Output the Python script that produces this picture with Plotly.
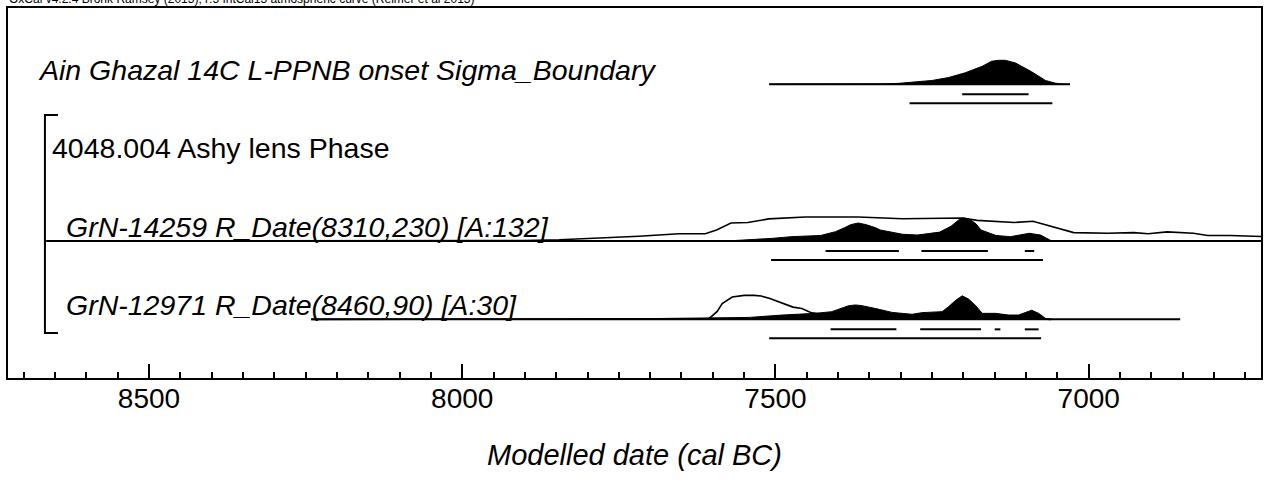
import plotly.graph_objects as go

# ---------------- data (years cal BC, relative probability) ----------------
x_range = [8725, 6725]
tick_years = [8500, 8000, 7500, 7000]

labels = [
    "Ain Ghazal 14C L-PPNB onset Sigma_Boundary",
    "4048.004 Ashy lens Phase",
    "GrN-14259 R_Date(8310,230) [A:132]",
    "GrN-12971 R_Date(8460,90) [A:30]",
]
label_italic = [True, False, True, True]

# Boundary (posterior only)
b_extent = [7510, 7030]
b_post_years = [7510, 7400, 7360, 7330, 7303, 7277, 7250, 7224, 7197, 7170, 7155, 7144, 7133, 7117, 7091, 7069, 7054, 7040, 7030]
b_post_prob = [0, 0, 0.01, 0.015, 0.04, 0.09, 0.16, 0.28, 0.48, 0.75, 0.96, 1.0, 1.0, 0.89, 0.52, 0.16, 0.05, 0, 0]
b_r68 = [(7202, 7096)]
b_r95 = [(7286, 7058)]

# GrN-14259
r1_extent = [8664, 6650]
r1_like_years = [8664, 7950, 7900, 7845, 7781, 7718, 7654, 7612, 7594, 7571, 7544, 7511, 7452, 7368, 7297, 7238,
                 7202, 7178, 7148, 7119, 7089, 7059, 7024, 6970, 6928, 6905, 6875, 6833, 6810, 6774, 6726, 6700]
r1_like_prob = [0, 0, 0.02, 0.05, 0.12, 0.2, 0.3, 0.3, 0.46, 0.75, 0.77, 0.92, 1.0, 1.0, 0.93, 0.93,
                0.96, 0.86, 0.82, 0.77, 0.82, 0.61, 0.35, 0.32, 0.35, 0.30, 0.38, 0.32, 0.23, 0.23, 0.18, 0.17]
r1_post_years = [7600, 7565, 7505, 7475, 7428, 7404, 7390, 7380, 7368, 7355, 7340, 7333, 7297, 7273, 7238, 7220,
                 7212, 7205, 7198, 7190, 7180, 7172, 7148, 7125, 7095, 7077, 7059]
r1_post_prob = [0, 0.02, 0.11, 0.18, 0.23, 0.39, 0.55, 0.68, 0.75, 0.68, 0.55, 0.46, 0.28, 0.25, 0.37, 0.61,
                0.78, 0.93, 0.96, 0.9, 0.72, 0.46, 0.23, 0.18, 0.32, 0.25, 0]
r1_r68 = [(7420, 7303), (7267, 7161), (7102, 7087)]
r1_r95 = [(7507, 7073)]

# GrN-12971
r2_extent = [8241, 6854]
r2_like_years = [8241, 7640, 7622, 7606, 7593, 7585, 7569, 7550, 7534, 7523, 7510, 7498, 7485, 7472, 7458, 7450,
                 7442, 7420, 7380, 7300, 7200, 7100, 7060]
r2_like_prob = [0, 0, 0.01, 0.03, 0.33, 0.66, 0.93, 1.0, 1.0, 0.97, 0.88, 0.76, 0.62, 0.51, 0.45, 0.37,
                0.27, 0.2, 0.15, 0.1, 0.08, 0.05, 0]
r2_post_years = [7800, 7761, 7654, 7590, 7542, 7489, 7436, 7410, 7395, 7383, 7372, 7362, 7340, 7314, 7282, 7266,
                 7234, 7224, 7212, 7202, 7192, 7181, 7170, 7149, 7128, 7112, 7091, 7080, 7069, 7062]
r2_post_prob = [0, 0.01, 0.04, 0.06, 0.08, 0.18, 0.25, 0.32, 0.45, 0.57, 0.6, 0.57, 0.45, 0.29, 0.21, 0.28,
                0.32, 0.52, 0.8, 0.98, 0.85, 0.59, 0.25, 0.25, 0.18, 0.18, 0.38, 0.25, 0.04, 0]
r2_r68 = [(7412, 7307), (7269, 7172), (7150, 7141), (7102, 7080)]
r2_r95 = [(7510, 7076)]

header_text = "OxCal v4.2.4 Bronk Ramsey (2013); r:5 IntCal13 atmospheric curve (Reimer et al 2013)"
x_title = "Modelled date (cal BC)"

# ---------------- layout constants (pixel geometry) ----------------
W, H = 1265, 489
L, R, T, B = 8, 1263, 8, 378
ROW_Y = [84.3, 162.65, 241.0, 319.35]
HSCALE = 24.0
R68_OFF, R95_OFF = 10, 19
FONT = "Liberation Sans, Arial, sans-serif"
BLACK = "#000000"


def px_x(p):
    return (p - L) / (R - L)


def px_y(p):
    return (B - p) / (B - T)


fig = go.Figure()


def add_row(base, extent, post_y=None, post_p=None, like_y=None, like_p=None, r68=(), r95=()):
    fig.add_trace(go.Scatter(x=extent, y=[base, base], mode="lines",
                             line=dict(color=BLACK, width=2), hoverinfo="skip", showlegend=False))
    if like_y is not None:
        fig.add_trace(go.Scatter(x=like_y, y=[base - p * HSCALE for p in like_p], mode="lines",
                                 line=dict(color=BLACK, width=1.6), hoverinfo="skip", showlegend=False))
    if post_y is not None:
        xs = list(post_y) + [post_y[-1], post_y[0]]
        ys = [base - p * HSCALE for p in post_p] + [base, base]
        fig.add_trace(go.Scatter(x=xs, y=ys, mode="lines", fill="toself", fillcolor=BLACK,
                                 line=dict(color=BLACK, width=1), hoverinfo="skip", showlegend=False))
    for segs, off in ((r68, R68_OFF), (r95, R95_OFF)):
        xs, ys = [], []
        for a, b in segs:
            xs += [a, b, None]
            ys += [base + off, base + off, None]
        if xs:
            fig.add_trace(go.Scatter(x=xs, y=ys, mode="lines", line=dict(color=BLACK, width=2),
                                     hoverinfo="skip", showlegend=False))


add_row(ROW_Y[0], b_extent, b_post_years, b_post_prob, r68=b_r68, r95=b_r95)
add_row(ROW_Y[2], r1_extent, r1_post_years, r1_post_prob, r1_like_years, r1_like_prob, r1_r68, r1_r95)
add_row(ROW_Y[3], r2_extent, r2_post_years, r2_post_prob, r2_like_years, r2_like_prob, r2_r68, r2_r95)

# labels
label_x = [38, 52, 66, 66]
annotations = []
for i, (t, it) in enumerate(zip(labels, label_italic)):
    annotations.append(dict(
        text=f"<i>{t}</i>" if it else t, xref="paper", yref="y",
        x=px_x(label_x[i] - 2), y=ROW_Y[i] - 14.5, xanchor="left", yanchor="middle",
        showarrow=False, font=dict(family=FONT, size=28.5, color=BLACK)))
annotations.append(dict(
    text=header_text, xref="paper", yref="paper", x=px_x(7), y=px_y(8.5), xanchor="left",
    yanchor="bottom", showarrow=False, font=dict(family=FONT, size=12, color=BLACK)))
annotations.append(dict(
    text=f"<i>{x_title}</i>", xref="paper", yref="paper", x=0.5, y=px_y(455), xanchor="center",
    yanchor="middle", showarrow=False, font=dict(family=FONT, size=29, color=BLACK)))

# phase bracket
bx0, bx1 = px_x(45), px_x(58)
shapes = [dict(type="path", xref="paper", yref="y",
               path=f"M {bx1},115 L {bx0},115 L {bx0},333 L {bx1},333",
               line=dict(color=BLACK, width=2))]

fig.update_layout(
    width=W, height=H,
    margin=dict(l=L, r=W - R, t=T, b=H - B),
    paper_bgcolor="white", plot_bgcolor="white",
    showlegend=False,
    annotations=annotations, shapes=shapes,
    xaxis=dict(range=x_range, tickvals=tick_years, ticktext=[str(v) for v in tick_years],
               ticks="inside", ticklen=14, tickwidth=2, tickcolor=BLACK,
               minor=dict(dtick=50, tick0=0, ticks="inside", ticklen=6, tickwidth=1.5, tickcolor=BLACK,
                          showgrid=False),
               showline=True, linewidth=2, linecolor=BLACK, mirror=True,
               showgrid=False, zeroline=False, ticklabelstandoff=-6,
               tickfont=dict(family=FONT, size=28, color=BLACK)),
    yaxis=dict(range=[B, T], showline=True, linewidth=2, linecolor=BLACK, mirror=True,
               ticks="", showticklabels=False, showgrid=False, zeroline=False),
)

fig.write_html("out.html", config={"displayModeBar": False},
               post_script="document.body.style.margin='0';document.body.style.overflow='hidden';")
